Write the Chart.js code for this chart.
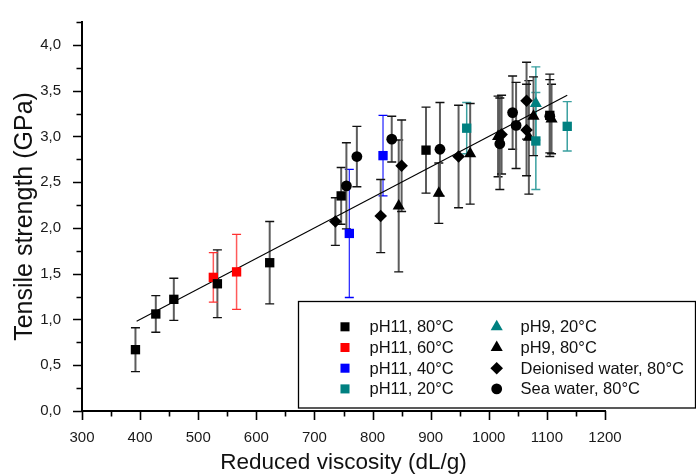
<!DOCTYPE html>
<html>
<head>
<meta charset="utf-8">
<script src="https://cdn.jsdelivr.net/npm/chart.js@4.4.1/dist/chart.umd.min.js"></script>
<style>
  html, body { margin: 0; padding: 0; background: #fff; }
  #wrap { width: 696px; height: 474px; position: relative; }
</style>
</head>
<body>
<div id="wrap"><canvas id="c" width="696" height="474"></canvas></div>
<script>
// ---- Data ----
const seriesLabels = ['pH11, 80°C', 'pH11, 60°C', 'pH11, 40°C', 'pH11, 20°C',
                      'pH9, 20°C', 'pH9, 80°C', 'Deionised water, 80°C', 'Sea water, 80°C'];

const ph11_80_x = [392, 427, 458, 533, 623, 746, 892, 1105];
const ph11_80_y = [0.67, 1.06, 1.22, 1.39, 1.62, 2.35, 2.85, 3.23];
const ph11_80_e = [0.24, 0.20, 0.23, 0.37, 0.45, 0.31, 0.47, 0.45];

const ph11_60_x = [526, 566];
const ph11_60_y = [1.46, 1.52];
const ph11_60_e = [0.27, 0.41];

const ph11_40_x = [760, 818];
const ph11_40_y = [1.94, 2.79];
const ph11_40_e = [0.70, 0.44];

const ph11_20_x = [962, 1081, 1135];
const ph11_20_y = [3.09, 2.95, 3.11];
const ph11_20_e = [0.28, 0.53, 0.27];

const ph9_20_x = [1081];
const ph9_20_y = [3.36];
const ph9_20_e = [0.40];

const ph9_80_x = [845, 914, 968, 1016, 1069, 1077, 1108];
const ph9_80_y = [2.24, 2.38, 2.81, 3.00, 2.99, 3.22, 3.19];
const ph9_80_e = [0.72, 0.33, 0.55, 0.44, 0.62, 0.43, 0.38];

const dw_80_x = [736, 814, 850, 948, 1022, 1065, 1065];
const dw_80_y = [2.07, 2.13, 2.68, 2.78, 3.02, 3.39, 3.07];
const dw_80_e = [0.26, 0.40, 0.50, 0.56, 0.43, 0.42, 0.50];

const sw_80_x = [755, 773, 833, 916, 1019, 1041, 1047, 1105];
const sw_80_y = [2.46, 2.78, 2.97, 2.86, 2.92, 3.26, 3.12, 3.22];
const sw_80_e = [0.47, 0.33, 0.25, 0.51, 0.50, 0.40, 0.47, 0.40];

const fitX = [394, 1135];
const fitY = [0.98, 3.45];

const xTickMin = 300, xTickMax = 1200, xTickStep = 50;
const yTickMin = 0, yTickMax = 4.25, yTickStep = 0.25;

// ---- helpers ----
function pts(xs, ys, es) {
  return xs.map((x, i) => ({ x: x, y: ys[i], e: es ? es[i] : 0 }));
}

function mk(label, xs, ys, es, style, color, radius, barColor, capColor, barWidth) {
  return {
    label: label,
    data: pts(xs, ys, es),
    pointStyle: style,
    pointRadius: radius,
    pointHoverRadius: radius,
    backgroundColor: color,
    borderColor: color,
    borderWidth: 0,
    showLine: false,
    order: 1,
    errBar: { color: barColor, cap: capColor, width: barWidth }
  };
}

const datasets = [
  {
    type: 'line', label: 'fit', data: pts(fitX, fitY),
    borderColor: '#000', borderWidth: 1.1, pointRadius: 0, fill: false,
    showLine: true, order: 5, isFit: true
  },
  mk(seriesLabels[0], ph11_80_x, ph11_80_y, ph11_80_e, 'rect', '#000000', 6.6, '#5c5c5c', '#111', 2),
  mk(seriesLabels[1], ph11_60_x, ph11_60_y, ph11_60_e, 'rect', '#ff0000', 6.6, '#ff5a5a', '#ff3030', 1.5),
  mk(seriesLabels[2], ph11_40_x, ph11_40_y, ph11_40_e, 'rect', '#0000ff', 6.6, '#2020ff', '#0000ff', 1.2),
  mk(seriesLabels[3], ph11_20_x, ph11_20_y, ph11_20_e, 'rect', '#008080', 6.6, '#3aa0a0', '#3aa0a0', 1.5),
  mk(seriesLabels[4], ph9_20_x, ph9_20_y, ph9_20_e, 'triangle', '#008080', 7, '#3aa0a0', '#3aa0a0', 1.5),
  mk(seriesLabels[5], ph9_80_x, ph9_80_y, ph9_80_e, 'triangle', '#000000', 7, '#5c5c5c', '#111', 2),
  mk(seriesLabels[6], dw_80_x, dw_80_y, dw_80_e, 'rectRot', '#000000', 6.3, '#5c5c5c', '#111', 2),
  mk(seriesLabels[7], sw_80_x, sw_80_y, sw_80_e, 'circle', '#000000', 5.4, '#5c5c5c', '#111', 2)
];

// error bars drawn through the chart's own scales
const errorBarPlugin = {
  id: 'errorBars',
  beforeDatasetsDraw(chart) {
    const ctx = chart.ctx;
    const xs = chart.scales.x, ys = chart.scales.y;
    ctx.save();
    chart.data.datasets.forEach(ds => {
      if (!ds.errBar) return;
      ds.data.forEach(p => {
        if (!p.e) return;
        const px = xs.getPixelForValue(p.x);
        const pTop = ys.getPixelForValue(p.y + p.e);
        const pBot = ys.getPixelForValue(p.y - p.e);
        ctx.strokeStyle = ds.errBar.color;
        ctx.lineWidth = ds.errBar.width;
        ctx.beginPath();
        ctx.moveTo(px, pTop); ctx.lineTo(px, pBot);
        ctx.stroke();
        ctx.strokeStyle = ds.errBar.cap;
        ctx.lineWidth = 1.4;
        ctx.beginPath();
        ctx.moveTo(px - 4.5, pTop); ctx.lineTo(px + 4.5, pTop);
        ctx.moveTo(px - 4.5, pBot); ctx.lineTo(px + 4.5, pBot);
        ctx.stroke();
      });
    });
    ctx.restore();
  }
};

// outward major/minor tick marks
const tickPlugin = {
  id: 'outTicks',
  afterDraw(chart) {
    const ctx = chart.ctx;
    const xs = chart.scales.x, ys = chart.scales.y;
    ctx.save();
    ctx.strokeStyle = '#000';
    ctx.lineWidth = 1.6;
    ctx.beginPath();
    xs.ticks.forEach(t => {
      const major = Math.abs(t.value % 100) < 1e-6;
      const px = Math.round(xs.getPixelForValue(t.value)) + 0.5;
      const y0 = chart.chartArea.bottom;
      ctx.moveTo(px, y0); ctx.lineTo(px, y0 + (major ? 9 : 5.5));
    });
    ys.ticks.forEach(t => {
      const major = Math.abs(t.value * 2 - Math.round(t.value * 2)) < 1e-6;
      const py = Math.round(ys.getPixelForValue(t.value)) + 0.5;
      const x0 = chart.chartArea.left;
      ctx.moveTo(x0, py); ctx.lineTo(x0 - (major ? 9 : 5.5), py);
    });
    ctx.stroke();
    ctx.restore();
  }
};

function drawMarker(ctx, style, x, y, r, color) {
  ctx.fillStyle = color;
  ctx.beginPath();
  if (style === 'rect') {
    const s = r * Math.SQRT1_2;
    ctx.rect(x - s, y - s, 2 * s, 2 * s);
  } else if (style === 'circle') {
    ctx.arc(x, y, r, 0, Math.PI * 2);
  } else if (style === 'rectRot') {
    ctx.moveTo(x, y - r); ctx.lineTo(x + r, y); ctx.lineTo(x, y + r); ctx.lineTo(x - r, y);
  } else if (style === 'triangle') {
    const a = 2 * Math.PI / 3;
    for (let i = 0; i < 3; i++) {
      const ang = i * a;
      const px = x + Math.sin(ang) * r, py = y - Math.cos(ang) * r;
      if (i === 0) ctx.moveTo(px, py); else ctx.lineTo(px, py);
    }
  }
  ctx.closePath();
  ctx.fill();
}

// framed two-column legend in lower right
const legendPlugin = {
  id: 'boxLegend',
  afterDraw(chart) {
    const ctx = chart.ctx;
    ctx.save();
    const bx = 298.5, by = 301.5, bw = 397, bh = 106.5;
    ctx.fillStyle = '#fff';
    ctx.fillRect(bx, by, bw, bh);
    ctx.strokeStyle = '#000';
    ctx.lineWidth = 1.3;
    ctx.strokeRect(bx, by, bw, bh);
    ctx.font = '16.5px "Liberation Sans", Arial, sans-serif';
    ctx.textBaseline = 'middle';
    ctx.textAlign = 'left';
    const rowsY = [326.8, 347.5, 368.2, 388.9];
    const colMarkX = [345, 496.7];
    const colTextX = [369.5, 520.5];
    const ds = chart.data.datasets.filter(d => !d.isFit);
    ds.forEach((d, i) => {
      const col = i < 4 ? 0 : 1;
      const row = i % 4;
      const y = rowsY[row];
      let r = d.pointRadius;
      if (d.pointStyle === 'rect') r = 6.4;
      drawMarker(ctx, d.pointStyle, colMarkX[col], y, r, d.backgroundColor);
      ctx.fillStyle = '#111';
      ctx.fillText(d.label, colTextX[col], y + 1);
    });
    ctx.restore();
  }
};

const chart = new Chart(document.getElementById('c'), {
  type: 'scatter',
  data: { datasets: datasets },
  plugins: [errorBarPlugin, tickPlugin, legendPlugin],
  options: {
    responsive: false,
    animation: false,
    devicePixelRatio: 1,
    layout: { padding: { top: 14, right: 91, bottom: 0, left: 0 } },
    plugins: {
      legend: { display: false },
      tooltip: { enabled: false },
      title: { display: false }
    },
    scales: {
      x: {
        type: 'linear',
        min: xTickMin, max: xTickMax,
        grid: { display: false },
        border: { display: true, color: '#000', width: 2 },
        ticks: {
          stepSize: xTickStep, autoSkip: false, maxRotation: 0, padding: 10,
          color: '#1a1a1a',
          font: { family: '"Liberation Sans", Arial, sans-serif', size: 15 },
          callback: v => (Math.abs(v % 100) < 1e-6 ? String(v) : '')
        },
        title: {
          display: true, text: 'Reduced viscosity (dL/g)', color: '#111',
          font: { family: '"Liberation Sans", Arial, sans-serif', size: 22.5, lineHeight: 1 },
          padding: { top: 0, bottom: 0 }
        },
        afterFit: s => { s.height = 63; }
      },
      y: {
        type: 'linear',
        min: yTickMin, max: yTickMax,
        grid: { display: false },
        border: { display: true, color: '#000', width: 2 },
        ticks: {
          stepSize: yTickStep, autoSkip: false, padding: 13,
          color: '#1a1a1a',
          font: { family: '"Liberation Sans", Arial, sans-serif', size: 15 },
          callback: v => (Math.abs(v * 2 - Math.round(v * 2)) < 1e-6 ? v.toFixed(1).replace('.', ',') : '')
        },
        title: {
          display: true, text: 'Tensile strength (GPa)', color: '#111',
          font: { family: '"Liberation Sans", Arial, sans-serif', size: 25, lineHeight: 1 },
          padding: { top: 13, bottom: 0 }
        },
        afterFit: s => { s.width = 82; }
      }
    }
  }
});
</script>
</body>
</html>
